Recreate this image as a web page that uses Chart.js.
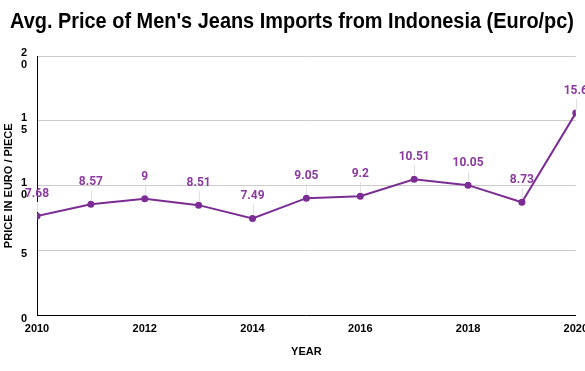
<!DOCTYPE html>
<html>
<head>
<meta charset="utf-8">
<script src="https://cdn.jsdelivr.net/npm/chart.js@4"></script>
<style>
  html, body { margin: 0; padding: 0; background: #fff; overflow: hidden; }
  #wrap { width: 595px; height: 371px; }
</style>
</head>
<body>
<div id="wrap"><canvas id="chart"></canvas></div>
<script>
const titleText = "Avg. Price of Men's Jeans Imports from Indonesia (Euro/pc)";
const years = [2010, 2011, 2012, 2013, 2014, 2015, 2016, 2017, 2018, 2019, 2020];
const prices = [7.68, 8.57, 9, 8.51, 7.49, 9.05, 9.2, 10.51, 10.05, 8.73, 15.6];
const priceLabels = ['7.68', '8.57', '9', '8.51', '7.49', '9.05', '9.2', '10.51', '10.05', '8.73', '15.6'];

const lineColor = '#7b2d93';
const labelColor = '#8b3b9e';

// condensed bold title drawn on top padding
const titlePlugin = {
  id: 'squeezedTitle',
  afterDraw(chart) {
    const ctx = chart.ctx;
    ctx.save();
    ctx.font = 'bold 22px "Liberation Sans", Arial, sans-serif';
    ctx.fillStyle = '#000';
    ctx.textBaseline = 'middle';
    const w = ctx.measureText(titleText).width;
    const target = 564;
    ctx.translate(10, 22);
    ctx.scale(target / w, 1);
    ctx.fillText(titleText, 0, 0);
    ctx.restore();
  }
};

// value labels with small leader lines
const valueLabels = {
  id: 'valueLabels',
  afterDatasetsDraw(chart) {
    const ctx = chart.ctx;
    const meta = chart.getDatasetMeta(0);
    ctx.save();
    ctx.font = 'bold 12px Roboto, sans-serif';
    ctx.textAlign = 'center';
    ctx.textBaseline = 'middle';
    meta.data.forEach((pt, i) => {
      const ly = pt.y - 22;
      ctx.strokeStyle = '#e0e0e0';
      ctx.lineWidth = 1;
      ctx.beginPath();
      ctx.moveTo(Math.round(pt.x) + 0.5, ly + 8);
      ctx.lineTo(Math.round(pt.x) + 0.5, pt.y - 4);
      ctx.stroke();
      ctx.fillStyle = labelColor;
      ctx.fillText(priceLabels[i], pt.x, ly);
    });
    ctx.restore();
  }
};

new Chart(document.getElementById('chart'), {
  type: 'line',
  data: {
    datasets: [{
      data: years.map((y, i) => ({ x: y, y: prices[i] })),
      borderColor: lineColor,
      backgroundColor: lineColor,
      borderWidth: 2,
      pointRadius: 3.5,
      pointBorderWidth: 0,
      pointHoverRadius: 3.5,
      tension: 0
    }]
  },
  options: {
    responsive: true,
    maintainAspectRatio: false,
    animation: false,
    layout: { padding: { top: 56, left: 0, right: 0, bottom: 8 } },
    plugins: {
      legend: { display: false },
      title: { display: false },
      tooltip: { enabled: false }
    },
    scales: {
      x: {
        type: 'linear',
        min: 2010,
        max: 2020,
        grid: { display: false, drawTicks: false },
        border: { display: true, color: '#000', width: 1 },
        ticks: {
          stepSize: 2,
          padding: 7,
          color: '#000',
          maxRotation: 0,
          font: { family: '"Liberation Sans", Arial', size: 11, weight: 'bold' },
          callback: v => String(v)
        },
        title: {
          display: true,
          text: 'YEAR',
          color: '#000',
          padding: { top: 3, bottom: 4 },
          font: { family: '"Liberation Sans", Arial', size: 11, weight: 'bold' }
        }
      },
      y: {
        min: 0,
        max: 20,
        grid: { color: '#cccccc', drawTicks: false },
        border: { display: true, color: '#000', width: 1 },
        afterFit(scale) { scale.width = 37; },
        ticks: {
          stepSize: 5,
          padding: 10,
          labelOffset: 3,
          color: '#000',
          font: { family: '"Liberation Sans", Arial', size: 11, weight: 'bold', lineHeight: 1.1 },
          callback: v => String(v).split('')
        },
        title: {
          display: true,
          text: 'PRICE IN EURO / PIECE',
          color: '#000',
          padding: { top: 2, bottom: 0 },
          font: { family: '"Liberation Sans", Arial', size: 11, weight: 'bold' }
        }
      }
    }
  },
  plugins: [titlePlugin, valueLabels]
});
</script>
</body>
</html>
